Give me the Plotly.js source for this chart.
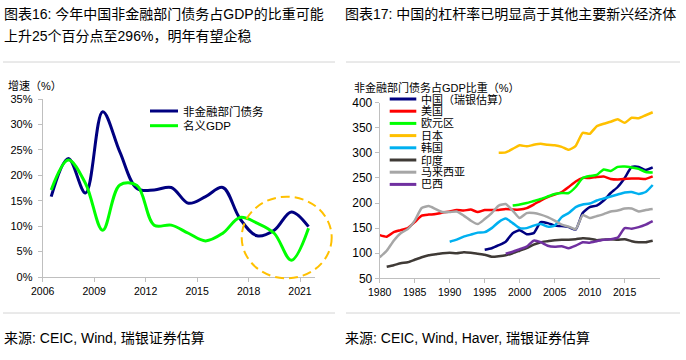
<!DOCTYPE html>
<html><head><meta charset="utf-8">
<script src="https://cdn.plot.ly/plotly-3.0.1.min.js"></script>
<style>html,body{margin:0;padding:0;background:#fff}#chart{width:686px;height:360px}</style>
</head><body><div id="chart"></div>
<script>
// ---------- Left chart (图表16) ----------
const leftYears = [2006,2007,2008,2009,2010,2011,2012,2013,2014,2015,2016,2017,2018,2019,2020,2021];
const debtGrowth = [15.8,23.3,16.5,32.5,24.6,17.4,17.1,17.6,14.5,15.8,17.6,11.5,8.1,9.2,12.8,9.9];
const gdpGrowth  = [17.1,23.0,18.4,9.2,18.1,18.0,10.2,10.2,8.6,7.1,8.6,11.7,10.6,8.6,3.3,9.6];
const leftNames  = ['非金融部门债务','名义GDP'];
const leftColors = ['#000080','#00FF00'];
const leftXTicks = [2006,2009,2012,2015,2018,2021];
const leftYTicks = [0,5,10,15,20,25,30,35];

// ---------- Right chart (图表17) ----------
const rightNames = ['中国（瑞银估算）','美国','欧元区','日本','韩国','印度','马来西亚','巴西'];
const rightColors = ['#000080','#FF0000','#00FF00','#FFC000','#00B0F0','#3F3A36','#A6A6A6','#7030A0'];
const chinaStart = 1995;
const china = [107,110,116,123,140,146,138,140,162,160,155,154,152,147,180,192,195,205,220,232,250,272,272,266,271];
const usStart = 1980;
const us = [136,133,142,146,150,162,175,177,178,181,183,186,185,187,182,186,186,186,188,187,187,190,197,205,212,217,222,232,243,250,250,252,253,248,247,248,249,249,248,253];
const euroStart = 1999;
const euro = [195,197,200,204,208,213,218,220,220,232,250,254,256,267,264,272,273,271,268,262,261];
const japanStart = 1997;
const japan = [300,301,308,315,313,316,318,316,315,312,306,314,340,338,353,358,362,367,360,370,369,375,381];
const koreaStart = 1990;
const korea = [123,127,133,137,141,142,150,162,169,160,150,150,155,158,153,155,172,180,192,197,199,205,209,213,217,221,222,218,222,236];
const indiaStart = 1981;
const india = [73,76,80,82,87,92,96,98,100,101,100,102,101,99,97,93,94,96,100,105,110,117,122,124,126,127,127,128,130,129,126,127,128,127,128,124,122,122,125];
const malaysiaStart = 1980;
const malaysia = [92,105,125,140,148,165,190,194,188,182,182,183,175,165,158,168,180,195,198,185,170,180,180,177,172,165,157,153,148,176,170,174,178,183,185,189,189,183,186,188];
const brazilStart = 1998;
const brazil = [99,103,108,113,125,122,115,113,114,110,115,122,121,124,127,128,131,150,149,152,157,164];
const rightXTicks = [1980,1985,1990,1995,2000,2005,2010,2015];
const rightYTicks = [50,100,150,200,250,300,350,400];

const rightSeries = [[chinaStart,china],[usStart,us],[euroStart,euro],[japanStart,japan],[koreaStart,korea],[indiaStart,india],[malaysiaStart,malaysia],[brazilStart,brazil]];

// ---------- layout helpers (pixel -> paper) ----------
const W = 686, H = 360;
const px = v => v / W;
const py = v => 1 - v / H;
const FONT = 'Liberation Sans, Arial, "Noto Sans CJK SC", sans-serif';

const traces = [];
[debtGrowth, gdpGrowth].forEach((vals, i) => {
  traces.push({
    x: leftYears.map(y => y + '-07-01'), y: vals, name: leftNames[i],
    type: 'scatter', mode: 'lines', xaxis: 'x', yaxis: 'y',
    line: {color: leftColors[i], width: 3, shape: 'spline', smoothing: 1},
    showlegend: false
  });
});
rightSeries.forEach(([start, vals], i) => {
  traces.push({
    x: vals.map((_, k) => start + k), y: vals, name: rightNames[i],
    type: 'scatter', mode: 'lines', xaxis: 'x2', yaxis: 'y2',
    line: {color: rightColors[i], width: 2.5, shape: 'spline', smoothing: 0.5},
    showlegend: false
  });
});

const axisCommon = {
  showline: true, linecolor: '#BFBFBF', linewidth: 1, showgrid: false, zeroline: false,
  ticks: 'outside', ticklen: 4, tickcolor: '#BFBFBF', tickwidth: 1,
  tickfont: {family: FONT, size: 11, color: '#000'}, fixedrange: true
};

const shapes = [];
const annotations = [];
// separators
[[3,335],[346,680]].forEach(([a,b]) => {
  [62, 313].forEach(yy => shapes.push({type:'line', xref:'paper', yref:'paper', x0:px(a), x1:px(b), y0:py(yy), y1:py(yy), line:{color:'#D4D4D4', width:1}}));
});
// dashed circle
shapes.push({type:'circle', xref:'paper', yref:'paper', x0:px(241.7), x1:px(331.7), y0:py(278.3), y1:py(196.7), line:{color:'#FFC000', width:2, dash:'9px,5px'}});

function txt(text, x, y, size, anchor) {
  annotations.push({text, xref:'paper', yref:'paper', x:px(x), y:py(y), xanchor: anchor || 'left', yanchor:'middle', showarrow:false, font:{family:FONT, size, color:'#000'}});
}
// titles
txt('图表16: 今年中国非金融部门债务占GDP的比重可能', 2, 14, 14);
txt('上升25个百分点至296%，明年有望企稳', 2, 36, 14);
txt('图表17: 中国的杠杆率已明显高于其他主要新兴经济体', 343, 14, 14);
// axis captions
txt('增速（%）', 6, 85, 11);
txt('非金融部门债务占GDP比重（%）', 352, 87, 11);
// sources
txt('来源: CEIC, Wind, 瑞银证券估算', 2, 338, 14);
txt('来源: CEIC, Wind, Haver, 瑞银证券估算', 343, 338, 14);

// left legend
leftNames.forEach((n, i) => {
  const yy = 111 + i * 14.7;
  shapes.push({type:'line', xref:'paper', yref:'paper', x0:px(150), x1:px(178), y0:py(yy), y1:py(yy), line:{color:leftColors[i], width:3}});
  txt(n, 181, yy, 11.5);
});
// right legend
rightNames.forEach((n, i) => {
  const yy = 99 + i * 12.2;
  shapes.push({type:'line', xref:'paper', yref:'paper', x0:px(389.7), x1:px(416.3), y0:py(yy), y1:py(yy), line:{color:rightColors[i], width:3}});
  txt(n, 419, yy, 11);
});

const layout = {
  width: W, height: H, margin: {l:0, r:0, t:0, b:0, pad:0},
  paper_bgcolor: '#fff', plot_bgcolor: 'rgba(0,0,0,0)', showlegend: false,
  font: {family: FONT, color: '#000'},
  xaxis: Object.assign({}, axisCommon, {
    type: 'date', domain: [px(42.7), px(315)], anchor: 'y',
    range: ['2006-01-01', '2021-11-16'],
    tickfont: {family: FONT, size: 10.5, color: '#000'},
    tickmode: 'array', tickvals: leftXTicks.map(y => y + '-01-01'), ticktext: leftXTicks.map(String)
  }),
  yaxis: Object.assign({}, axisCommon, {
    domain: [py(277), py(99)], anchor: 'x', range: [0, 35], ticklabelstandoff: 3,
    tickmode: 'array', tickvals: leftYTicks, ticktext: leftYTicks.map(v => v + '%')
  }),
  xaxis2: Object.assign({}, axisCommon, {
    domain: [px(379.7), px(659.7)], anchor: 'y2', range: [1980, 2020],
    tickfont: {family: FONT, size: 10.5, color: '#000'},
    tickmode: 'array', tickvals: rightXTicks, ticktext: rightXTicks.map(String)
  }),
  yaxis2: Object.assign({}, axisCommon, {
    domain: [py(278.3), py(102.7)], anchor: 'x2', range: [50, 400],
    tickfont: {family: FONT, size: 12, color: '#000'},
    tickmode: 'array', tickvals: rightYTicks, ticktext: rightYTicks.map(String)
  }),
  shapes, annotations
};

Plotly.newPlot('chart', traces, layout, {staticPlot: true, displayModeBar: false});
</script>
</body></html>
